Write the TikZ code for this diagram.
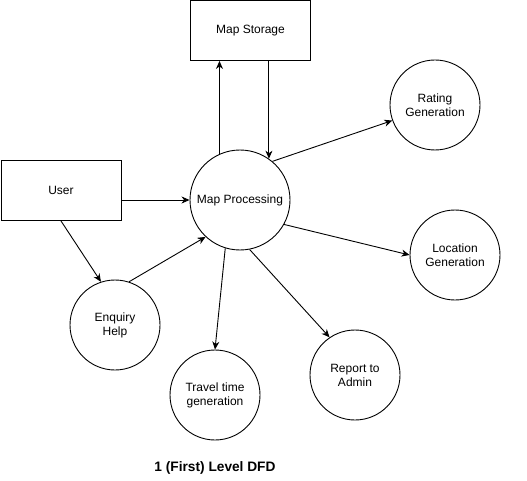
\documentclass[tikz,border=0pt]{standalone}
\usepackage{fontspec}
\setmainfont{Liberation Sans}
\usetikzlibrary{arrows.meta}
\usetikzlibrary{calc}
\tikzset{>={Stealth[length=8pt,width=7pt,inset=2.5pt]}}
\tikzset{ent/.style={draw,rectangle,minimum width=120pt,minimum height=60pt,inner sep=0pt}}
\tikzset{bub/.style={draw,circle,minimum size=90pt,inner sep=0pt,align=center}}
\tikzset{flow/.style={->,line width=0.9pt}}

\begin{document}
\begin{tikzpicture}[x=1pt,y=-1pt,line width=0.9pt,font=\fontsize{12}{14}\selectfont]
\useasboundingbox (0,0) rectangle (527,481);

\node[ent] (store) at (250.5,30.5) {Map Storage};
\node[ent] (user) at (61,190.5) {User};
\node[bub,minimum size=100pt] (proc) at (240,200) {Map Processing};

\node[bub] (enq) at (115,325) {Enquiry\\Help};
\node[bub] (travel) at (215,395) {Travel time\\generation};
\node[bub] (report) at (355,375) {Report to\\Admin};
\node[bub] (rating) at (435,105) {Rating\\Generation};
\node[bub] (loc) at (455,255) {Location\\Generation};

\draw[flow] (proc.114) -- (proc.114 |- store.south);
\draw[flow] (store.south -| proc.55) -- (proc.55);
\draw[flow] (user.east |- proc.west) -- (proc.west);
\draw[flow] (user.south) -- (enq.108);
\draw[flow] (enq.72) -- (proc.227);
\draw[flow] (proc.253) -- (travel.north);
\draw[flow] (proc.281) -- (report.124);
\draw[flow] (proc.50) -- (rating.200);
\draw[flow] (proc.331) -- (loc.west);

\node[font=\fontsize{13.7}{16}\selectfont\bfseries] (title) at (215,468) {1 (First) Level DFD};
\end{tikzpicture}
\end{document}
